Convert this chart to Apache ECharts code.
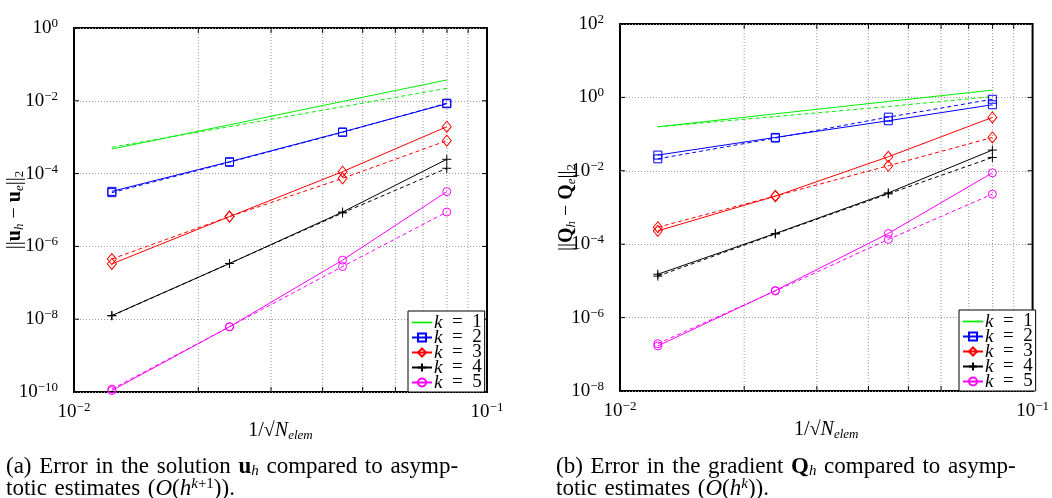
<!DOCTYPE html>
<html><head><meta charset="utf-8">
<script src="https://cdn.jsdelivr.net/npm/echarts@6/dist/echarts.min.js"></script>
<style>html,body{margin:0;padding:0;background:#fff}#c{width:1052px;height:498px}</style>
</head><body><div id="c"></div>
<script>
// mesh sizes 1/sqrt(N_elem)
const hValues = [0.01235, 0.0238, 0.0447, 0.0799];
// minor grid positions on x
const minorGridX = [0.02, 0.03, 0.04, 0.05, 0.06, 0.07, 0.08, 0.09];
// y major tick values
const yTicksU = [1, 1e-2, 1e-4, 1e-6, 1e-8, 1e-10];
const yTicksQ = [1e2, 1, 1e-2, 1e-4, 1e-6, 1e-8];
const legendNames = ['k = 1', 'k = 2', 'k = 3', 'k = 4', 'k = 5'];

// (a) error in solution u_h : computed (solid) and asymptotic (dashed)
const uK1 = [4.74e-4, 2.19e-3, 9.6e-3, 3.73e-2];
const uK1ref = [5.3e-4, 1.95e-3, 6.9e-3, 2.2e-2];
const uK2 = [3.25e-5, 2.12e-4, 1.39e-3, 8.3e-3];
const uK2ref = [3.0e-5, 2.05e-4, 1.36e-3, 8.6e-3];
const uK3 = [3.3e-7, 6.6e-6, 1.13e-4, 1.94e-3];
const uK3ref = [4.5e-7, 6.6e-6, 7.4e-5, 8.0e-4];
const uK4 = [1.26e-8, 3.4e-7, 8.8e-6, 2.47e-4];
const uK4ref = [1.24e-8, 3.4e-7, 8.3e-6, 1.4e-4];
const uK5 = [1.1e-10, 6.2e-9, 4.2e-7, 3.2e-5];
const uK5ref = [1.2e-10, 6.2e-9, 2.8e-7, 8.8e-6];

// (b) error in gradient Q_h
const qK1 = [0.158, 0.356, 0.774, 1.58];
const qK1ref = [0.158, 0.30, 0.565, 1.05];
const qK2 = [0.0268, 0.0813, 0.231, 0.63];
const qK2ref = [0.0212, 0.078, 0.29, 0.89];
const qK3 = [2.31e-4, 2.04e-3, 0.0241, 0.285];
const qK3ref = [2.9e-4, 2.06e-3, 0.0137, 0.081];
const qK4 = [1.52e-5, 1.96e-4, 2.5e-3, 0.0367];
const qK4ref = [1.35e-5, 1.9e-4, 2.35e-3, 0.0231];
const qK5 = [1.69e-7, 5.46e-6, 1.96e-4, 8.8e-3];
const qK5ref = [1.95e-7, 5.3e-6, 1.35e-4, 2.31e-3];

const FONT = 'Liberation Serif';
const colors = ['#00f000', '#0000ff', '#ff0000', '#000000', '#ff00ff'];
const plusPath = 'path://M5,0L5,10M0,5L10,5';
const linePath = 'path://M0,4.4L20,4.4L20,5.6L0,5.6Z';
const symbols = ['none', 'rect', 'diamond', plusPath, 'circle'];
const symSizes = [0, 8, [9, 11], 9, 8];

function mk(vals, k, dashed, gi) {
  const c = colors[k - 1];
  const s = {
    type: 'line', name: dashed ? 'ref ' + k : 'k = ' + k,
    xAxisIndex: gi, yAxisIndex: gi,
    data: hValues.map((h, i) => [h, vals[i]]),
    symbol: symbols[k - 1], symbolSize: symSizes[k - 1], showSymbol: k > 1,
    lineStyle: { color: c, width: 1, type: dashed ? [4, 3] : 'solid' },
    itemStyle: k === 1 ? { color: c, borderColor: c, borderWidth: 0 } : { color: 'rgba(0,0,0,0)', borderColor: c, borderWidth: 1 },
    emphasis: { disabled: true }, silent: true, z: 5
  };
  if (k === 1) s.legendIcon = linePath;
  return s;
}
const uSets = [[uK1, uK1ref], [uK2, uK2ref], [uK3, uK3ref], [uK4, uK4ref], [uK5, uK5ref]];
const qSets = [[qK1, qK1ref], [qK2, qK2ref], [qK3, qK3ref], [qK4, qK4ref], [qK5, qK5ref]];

function gridRender(params, api) {
  const cs = params.coordSys;
  const x = api.coord([api.value(0), api.value(1)])[0];
  return { type: 'group', children: [
    { type: 'line', shape: { x1: x, y1: cs.y, x2: x, y2: cs.y + cs.height },
      style: { stroke: '#9a9a9a', lineWidth: 1, lineDash: [1, 2] } },
    { type: 'line', shape: { x1: x, y1: cs.y + cs.height, x2: x, y2: cs.y + cs.height - 5 },
      style: { stroke: '#000', lineWidth: 1 } },
    { type: 'line', shape: { x1: x, y1: cs.y, x2: x, y2: cs.y + 5 },
      style: { stroke: '#000', lineWidth: 1 } }
  ]};
}
function yTickRender(params, api) {
  const cs = params.coordSys;
  const y = api.coord([api.value(0), api.value(1)])[1];
  return { type: 'group', children: [
    { type: 'line', shape: { x1: cs.x, y1: y, x2: cs.x + 5, y2: y }, style: { stroke: '#000', lineWidth: 1 } },
    { type: 'line', shape: { x1: cs.x + cs.width, y1: y, x2: cs.x + cs.width - 5, y2: y }, style: { stroke: '#000', lineWidth: 1 } }
  ]};
}

const supFmt = v => {
  const e = Math.round(Math.log10(v));
  return '{b|10}{s|' + (e < 0 ? '−' : '') + Math.abs(e) + '}';
};
const labelRich = {
  b: { fontFamily: FONT, fontSize: 19, lineHeight: 22, color: '#000' },
  s: { fontFamily: FONT, fontSize: 13, lineHeight: 12, verticalAlign: 'top', color: '#000' }
};
const nameRich = {
  n: { fontFamily: FONT, fontSize: 20, lineHeight: 22, color: '#000' },
  b: { fontFamily: FONT, fontSize: 20, lineHeight: 22, fontWeight: 'bold', color: '#000' },
  i: { fontFamily: FONT, fontSize: 20, lineHeight: 22, fontStyle: 'italic', color: '#000' },
  s: { fontFamily: FONT, fontSize: 13, lineHeight: 12, verticalAlign: 'bottom', color: '#000' },
  si: { fontFamily: FONT, fontSize: 13, lineHeight: 12, verticalAlign: 'bottom', fontStyle: 'italic', color: '#000' }
};

function xAxisDef(gi) {
  return {
    type: 'log', logBase: 10, gridIndex: gi, min: 0.01, max: 0.1,
    axisLine: { show: false }, axisTick: { show: false }, splitLine: { show: false },
    axisLabel: { formatter: supFmt, rich: labelRich, margin: 9, showMinLabel: true, showMaxLabel: true },
    name: '{n|1/√}{i|N}{si|elem}', nameLocation: 'middle', nameGap: 28, nameMoveOverlap: false,
    nameTextStyle: { rich: nameRich }
  };
}
function yAxisDef(gi, mn, mx, nm, gap) {
  return {
    type: 'log', logBase: 10, gridIndex: gi, min: mn, max: mx, interval: 2,
    axisLine: { show: false }, axisTick: { show: false },
    splitLine: { show: true, lineStyle: { color: '#9a9a9a', type: [1, 2], width: 1 } },
    axisLabel: { formatter: supFmt, rich: labelRich, margin: 16, showMinLabel: true, showMaxLabel: true },
    name: nm, nameLocation: 'middle', nameGap: gap, nameRotate: 90, nameMoveOverlap: false,
    nameTextStyle: { rich: nameRich }
  };
}

const series = [];
uSets.forEach((s, i) => { series.push(mk(s[1], i + 1, true, 0)); series.push(mk(s[0], i + 1, false, 0)); });
qSets.forEach((s, i) => { series.push(mk(s[1], i + 1, true, 1)); series.push(mk(s[0], i + 1, false, 1)); });
series.unshift({ type: 'custom', xAxisIndex: 0, yAxisIndex: 0, renderItem: gridRender, silent: true, z: 1,
  data: minorGridX.map(v => [v, 1e-5]) });
series.unshift({ type: 'custom', xAxisIndex: 1, yAxisIndex: 1, renderItem: gridRender, silent: true, z: 1,
  data: minorGridX.map(v => [v, 1e-3]) });
series.unshift({ type: 'custom', xAxisIndex: 0, yAxisIndex: 0, renderItem: yTickRender, silent: true, z: 2,
  data: yTicksU.map(v => [0.03, v]) });
series.unshift({ type: 'custom', xAxisIndex: 1, yAxisIndex: 1, renderItem: yTickRender, silent: true, z: 2,
  data: yTicksQ.map(v => [0.03, v]) });

function legendDef(left, top) {
  return {
    data: legendNames.map((n, i) => i === 0
      ? { name: n, icon: linePath,
          itemStyle: { color: colors[0], borderColor: colors[0], borderWidth: 0.5, opacity: 1 },
          lineStyle: { color: colors[0], width: 1 } }
      : n),
    orient: 'vertical', left: left, top: top, selectedMode: false, z: 10,
    itemWidth: 20, itemHeight: 10, itemGap: -4, padding: [2, 3, 0, 3],
    backgroundColor: '#fff', borderColor: '#000', borderWidth: 1, borderRadius: 0,
    formatter: n => '{i|k}\u2002=\u2002' + n.slice(-1),
    textStyle: { fontFamily: FONT, fontSize: 19, lineHeight: 15, color: '#000', padding: [0, 0, 0, -3],
      rich: { i: { fontFamily: FONT, fontSize: 19, lineHeight: 15, fontStyle: 'italic', color: '#000' } } }
  };
}

const CS = 23;
const capRich = {
  b: { fontFamily: FONT, fontSize: CS, fontWeight: 'bold', lineHeight: 24 },
  i: { fontFamily: FONT, fontSize: CS, fontStyle: 'italic', lineHeight: 24 },
  s: { fontFamily: FONT, fontSize: 15, lineHeight: 14, verticalAlign: 'bottom', fontStyle: 'italic' },
  su: { fontFamily: FONT, fontSize: 15, lineHeight: 14, verticalAlign: 'top' },
  sui: { fontFamily: FONT, fontSize: 15, lineHeight: 14, verticalAlign: 'top', fontStyle: 'italic' }
};
function cap(x, y, txt) {
  return { type: 'text', x: x, y: y, silent: true,
    style: { text: txt.replace(/ /g, '\u2004'), rich: capRich, fontFamily: FONT, fontSize: CS, lineHeight: 24, fill: '#000',
      verticalAlign: 'middle', align: 'left' } };
}

const option = {
  animation: false, backgroundColor: '#fff',
  textStyle: { fontFamily: FONT },
  grid: [
    { left: 74, top: 28, width: 413, height: 364, show: true, borderColor: '#000', borderWidth: 2, backgroundColor: 'transparent' },
    { left: 620, top: 24, width: 418, height: 367, show: true, borderColor: '#000', borderWidth: 2, backgroundColor: 'transparent' }
  ],
  xAxis: [xAxisDef(0), xAxisDef(1)],
  yAxis: [
    yAxisDef(0, 1e-10, 1, '{n|||}{b|u}{si|h}{n| − }{b|u}{si|e}{n|||}{s|2}', 48),
    yAxisDef(1, 1e-8, 100, '{n|||}{b|Q}{si|h}{n| − }{b|Q}{si|e}{n|||}{s|2}', 42)
  ],
  legend: [legendDef(408, 311), legendDef(959, 310)],
  series: series,
  graphic: [
    cap(6, 467, '(a) Error in the solution {b|u}{s|h} compared to asymp-'),
    cap(6, 489, 'totic estimates ({i|O}({i|h}{sui|k}{su|+1})).'),
    cap(556, 467, '(b) Error in the gradient {b|Q}{s|h} compared to asymp-'),
    cap(556, 489, 'totic estimates ({i|O}({i|h}{sui|k})).')
  ]
};
const chart = echarts.init(document.getElementById('c'), null, { renderer: 'canvas' });
chart.setOption(option);
</script></body></html>
